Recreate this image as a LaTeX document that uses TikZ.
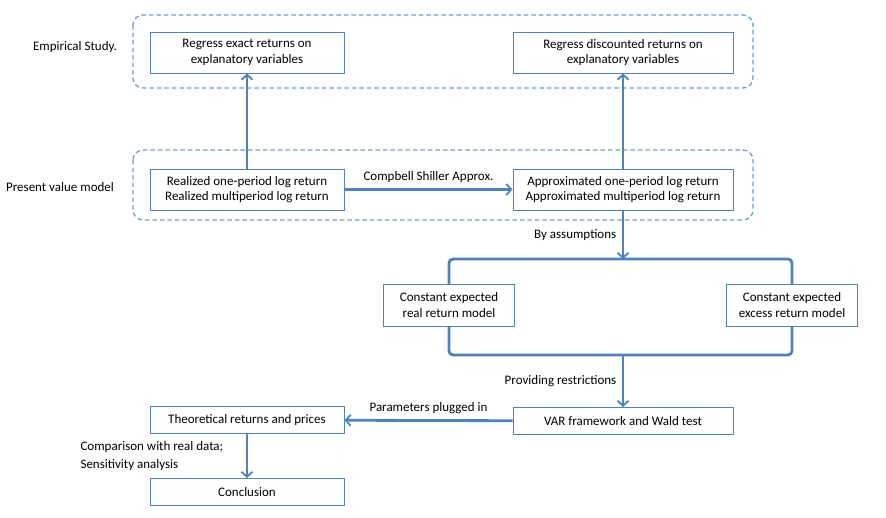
\documentclass[tikz,border=0pt]{standalone}
\usepackage{fontspec}
\setmainfont{Carlito}
\usetikzlibrary{arrows.meta}
\definecolor{boxblue}{RGB}{79,129,189}
\definecolor{dashblue}{RGB}{110,155,210}

\begin{document}
\begin{tikzpicture}[x=1pt,y=-1pt]

\tikzset{box/.style = {draw=boxblue, fill=white, line width=1pt, align=center, inner sep=0pt, font=\fontsize{13}{15.5}\selectfont}}
\tikzset{edge/.style = {draw=boxblue, line width=2.8pt, -{Straight Barb[length=5pt,width=11pt,line width=1.8pt]}}}
\tikzset{group/.style = {draw=dashblue, line width=1.3pt, rounded corners=10pt, dash pattern=on 4.5pt off 3pt}}
\tikzset{note/.style = {font=\fontsize{13}{17.5}\selectfont, text=black}}

\useasboundingbox (0,0) rectangle (886,517);

% dashed groups
\draw[group] (133,15) rectangle (753,88);
\draw[group] (133,150) rectangle (753,220);
\node[note] (emp) at (75,47) {Empirical Study.};
\node[note] (pv) at (60,187) {Present value model};

% vertices
\node[box, minimum width=194pt, minimum height=41pt] (exact) at (247,52.5) {Regress exact returns on\\explanatory variables};
\node[box, minimum width=220pt, minimum height=41pt] (disc) at (623,52.5) {Regress discounted returns on\\explanatory variables};
\node[box, minimum width=194pt, minimum height=41pt] (real) at (247,189.5) {Realized one-period log return\\Realized multiperiod log return};
\node[box, minimum width=220pt, minimum height=41pt] (approx) at (623,189.5) {Approximated one-period log return\\Approximated multiperiod log return};

% model frame
\coordinate (ftop) at (623,259);
\coordinate (fbot) at (623,355);
\draw[draw=boxblue, line width=2.8pt, rounded corners=4pt] (449,259) rectangle (792,355);
\node[box, minimum width=131pt, minimum height=42pt] (cer) at (449,305) {Constant expected\\real return model};
\node[box, minimum width=131pt, minimum height=42pt] (cee) at (792,305) {Constant expected\\excess return model};

\node[box, minimum width=220pt, minimum height=27pt] (var) at (623,421) {VAR framework and Wald test};
\node[box, minimum width=194pt, minimum height=27pt] (theo) at (247,420) {Theoretical returns and prices};
\node[box, minimum width=194pt, minimum height=27pt] (concl) at (247,492) {Conclusion};

%edges
\draw[edge] (real) -- (exact);
\draw[edge] (approx) -- (disc);
\draw[edge] (real) -- (approx) node[note, midway, above=2pt] {Compbell Shiller Approx.};
\draw[edge] (approx) -- (ftop) node[note, midway, left=2pt] {By assumptions};
\draw[edge] (fbot) -- (var) node[note, midway, left=2pt] {Providing restrictions};
\draw[edge] (var) -- (theo) node[note, midway, above=2pt] {Parameters plugged in};
\draw[edge] (theo) -- (concl);
\node[note, anchor=west, align=left] (cmp) at (77,456) {Comparison with real data;\\Sensitivity analysis};

\end{tikzpicture}
\end{document}
